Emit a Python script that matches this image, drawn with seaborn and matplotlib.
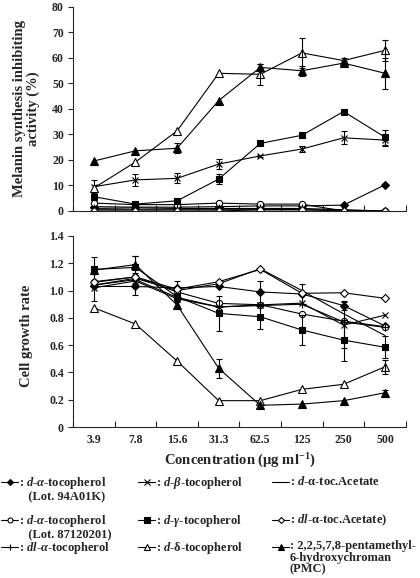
"""Melanin synthesis inhibition and cell growth vs. concentration for tocopherols."""
import numpy as np
import matplotlib
matplotlib.use("Agg")
import matplotlib.pyplot as plt
import seaborn as sns
from matplotlib.lines import Line2D
from matplotlib.ticker import FixedLocator

sns.set_style("ticks")
plt.rcParams.update({
    "font.family": ["Liberation Serif", "DejaVu Serif"],
    "font.weight": "bold",
    "axes.labelweight": "bold",
    "font.size": 8,
    "mathtext.fontset": "custom",
    "mathtext.rm": "Liberation Serif:bold",
    "mathtext.it": "Liberation Serif:italic:bold",
    "mathtext.bf": "Liberation Serif:bold",
    "axes.linewidth": 0.8,
})

concentrations = ["3.9", "7.8", "15.6", "31.3", "62.5", "125", "250", "500"]

# melanin synthesis inhibiting activity (%)
mel_a94 = [1.7, 1.5, 1.5, 1.7, 2.0, 2.0, 2.3, 10.3]
mel_a87 = [3.1, 2.5, 2.5, 3.1, 2.7, 2.7, 0.0, 0.0]
mel_dla = [1.0, 1.2, 1.0, 1.0, 1.0, 1.0, 0.5, 0.0]
mel_b = [9.5, 12.2, 12.8, 18.4, 21.6, 24.3, 28.7, 27.8]
mel_b_err = [2.5, 2.5, 2.0, 2.0, 0.5, 1.0, 2.5, 2.5]
mel_g = [5.6, 2.7, 4.0, 12.5, 26.5, 29.7, 39.0, 28.9]
mel_g_err = [0, 0, 0, 2.0, 0, 0, 0, 3.0]
mel_d = [9.0, 19.2, 31.4, 54.0, 53.6, 62.0, 59.0, 63.0]
mel_d_err = [0, 0, 0, 0, 4.0, 6.0, 1.0, 4.0]
mel_ac = [0.5, 0.5, 0.5, 0.5, 0.5, 0.5, 0.3, 0.0]
mel_dlac = [0.0, 0.0, 0.0, 0.0, 0.5, 0.5, 0.0, 0.0]
mel_pmc = [19.6, 23.6, 24.6, 43.3, 56.3, 55.0, 58.0, 54.0]
mel_pmc_err = [0, 0, 2.0, 0, 1.5, 2.0, 1.0, 6.0]

# cell growth rate
gr_a94 = [1.03, 1.03, 1.02, 1.03, 0.99, 0.975, 0.89, 0.74]
gr_a94_err = [0, 0.06, 0.05, 0, 0.08, 0.075, 0.03, 0]
gr_a87 = [1.065, 1.10, 0.99, 0.906, 0.896, 0.828, 0.776, 0.735]
gr_dla = [1.04, 1.08, 0.95, 0.88, 0.89, 0.90, 0.77, 0.73]
gr_b = [1.02, 1.07, 0.94, 0.88, 0.895, 0.908, 0.747, 0.82]
gr_b_err = [0.10, 0, 0, 0, 0, 0, 0.17, 0]
gr_g = [1.155, 1.17, 0.955, 0.833, 0.808, 0.711, 0.637, 0.584]
gr_g_err = [0.09, 0.08, 0.03, 0.13, 0.09, 0.11, 0.15, 0.08]
gr_d = [0.874, 0.755, 0.484, 0.193, 0.193, 0.276, 0.313, 0.442]
gr_d_err = [0, 0, 0, 0, 0, 0, 0, 0.05]
gr_ac = [1.04, 1.09, 1.00, 1.05, 1.16, 1.00, 0.83, 0.67]
gr_dlac = [1.06, 1.10, 1.01, 1.065, 1.155, 0.98, 0.984, 0.943]
gr_pmc = [1.15, 1.19, 0.894, 0.43, 0.159, 0.168, 0.193, 0.251]
gr_pmc_err = [0, 0.06, 0.025, 0.07, 0, 0, 0, 0.02]

series = {
    "a94": (mel_a94, None, gr_a94, gr_a94_err),
    "a87": (mel_a87, None, gr_a87, None),
    "dla": (mel_dla, None, gr_dla, None),
    "b": (mel_b, mel_b_err, gr_b, gr_b_err),
    "g": (mel_g, mel_g_err, gr_g, gr_g_err),
    "d": (mel_d, mel_d_err, gr_d, gr_d_err),
    "ac": (mel_ac, None, gr_ac, None),
    "dlac": (mel_dlac, None, gr_dlac, None),
    "pmc": (mel_pmc, mel_pmc_err, gr_pmc, gr_pmc_err),
}

# marker, size, face colour
STYLE = {
    "a94": ("D", 3.8, "black"),
    "a87": ("o", 4.5, "white"),
    "dla": ("+", 6.0, "black"),
    "b": ("x", 5.0, "black"),
    "g": ("s", 5.0, "black"),
    "d": ("^", 5.5, "white"),
    "ac": ("", 0, "black"),
    "dlac": ("D", 3.8, "white"),
    "pmc": ("^", 5.5, "black"),
}

W, H = 420, 578
fig = plt.figure(figsize=(W / 100, H / 100), dpi=100)
ax_top = fig.add_axes([73 / W, 1 - 211 / H, 333 / W, 204 / H])
ax_bot = fig.add_axes([73 / W, 1 - 427 / H, 333 / W, 191 / H])

xpos = np.arange(len(concentrations))


def draw_panel(ax, col):
    for key, vals in series.items():
        y, err = vals[col], vals[col + 1]
        m, ms, fc = STYLE[key]
        sns.lineplot(x=xpos, y=y, ax=ax, color="black", linewidth=0.8,
                     marker=m if m else None, markersize=ms, markerfacecolor=fc,
                     markeredgecolor="black", markeredgewidth=0.8)
        if err is not None:
            err = np.asarray(err)
            keep = err > 0
            ax.errorbar(xpos[keep], np.asarray(y)[keep], yerr=err[keep], fmt="none",
                        ecolor="black", elinewidth=0.8, capsize=2.5, capthick=0.8)
    ax.set_xlim(-0.5, len(concentrations) - 0.5)
    ax.xaxis.set_major_locator(FixedLocator(xpos))
    ax.xaxis.set_minor_locator(FixedLocator(np.arange(len(concentrations) + 1) - 0.5))
    ax.tick_params(axis="x", which="major", length=0, pad=5, labelsize=8.5)
    ax.tick_params(axis="x", which="minor", direction="in", length=4, width=0.8)
    ax.tick_params(axis="y", direction="out", length=3.5, width=0.8, pad=3, labelsize=8.5)
    sns.despine(ax=ax)


draw_panel(ax_top, 0)
ax_top.set_ylim(0, 80)
ax_top.set_yticks(np.arange(0, 81, 10))
ax_top.set_xticklabels([])
ax_top.set_xlabel("")
ax_top.set_ylabel("Melanin synthesis inhibiting\nactivity (%)", fontsize=10.5,
                  linespacing=1.0)
ax_top.yaxis.set_label_coords(-0.1, 0.5)

draw_panel(ax_bot, 2)
ax_bot.set_ylim(0, 1.4)
gr_ticks = np.arange(0, 1.41, 0.2)
ax_bot.set_yticks(gr_ticks)
ax_bot.set_yticklabels(["0"] + [f"{t:.1f}" for t in gr_ticks[1:]])
ax_bot.set_xticklabels(concentrations)
ax_bot.set_xlabel("Concentration (μg ml$^{-1}$)", fontsize=10.5, labelpad=4)
ax_bot.set_ylabel("Cell growth rate", fontsize=10.5)
ax_bot.yaxis.set_label_coords(-0.12, 0.48)

# legend, laid out as a 3 x 3 grid below the axes
legend_rows = [
    [("a94", r": $\mathit{d}$-$\mathit{α}$-tocopherol" + "\n   (Lot. 94A01K)"),
     ("b", r": $\mathit{d}$-$\mathit{β}$-tocopherol"),
     ("ac", r": $\mathit{d}$-α-toc.Acetate")],
    [("a87", r": $\mathit{d}$-$\mathit{α}$-tocopherol" + "\n   (Lot. 87120201)"),
     ("g", r": $\mathit{d}$-$\mathit{γ}$-tocopherol"),
     ("dlac", r": $\mathit{dl}$-α-toc.Acetate)")],
    [("dla", r": $\mathit{dl}$-$\mathit{α}$-tocopherol"),
     ("d", r": $\mathit{d}$-δ-tocopherol"),
     ("pmc", ": 2,2,5,7,8-pentamethyl-\n6-hydroxychroman\n(PMC)")],
]
col_x = [1, 138, 272]
row_y = [482, 520, 547]
handle_len = 17

for r, row in enumerate(legend_rows):
    for c, (key, label) in enumerate(row):
        m, ms, fc = STYLE[key]
        x0, y0 = col_x[c], row_y[r]
        fy = 1 - y0 / H
        fig.add_artist(Line2D([x0 / W, (x0 + handle_len) / W], [fy, fy],
                              transform=fig.transFigure, color="black", lw=0.8))
        if m:
            fig.add_artist(Line2D([(x0 + handle_len / 2) / W], [fy], transform=fig.transFigure,
                                  marker=m, markersize=ms * 0.8, markerfacecolor=fc,
                                  markeredgecolor="black", markeredgewidth=0.8,
                                  linestyle="none"))
        fig.text((x0 + handle_len + 1) / W, 1 - (y0 - 7) / H, label,
                 fontsize=9.0, va="top", ha="left", linespacing=0.98)

fig.savefig("out.png", dpi=100)
